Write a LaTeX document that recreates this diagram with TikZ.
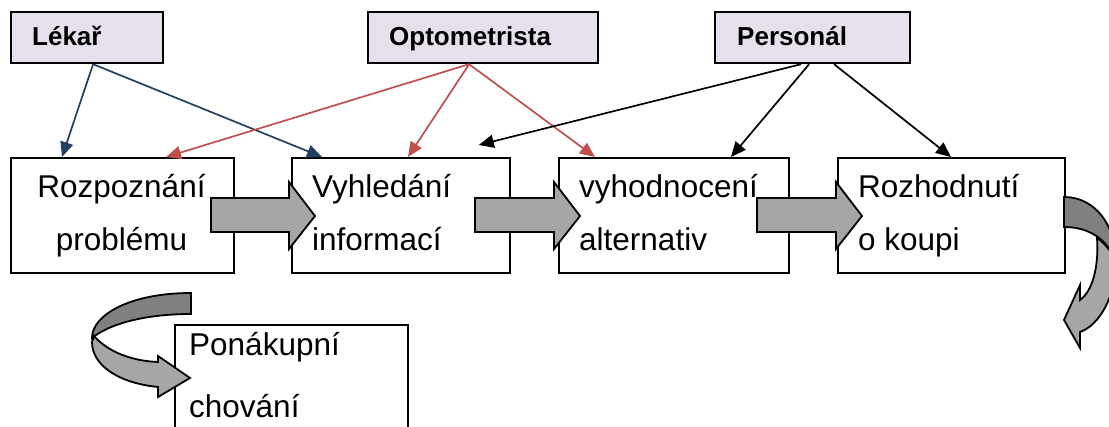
\documentclass[tikz,border=0pt]{standalone}
\usepackage{fontspec}
\setmainfont{Liberation Sans}
\usetikzlibrary{arrows.meta}
\definecolor{navy}{HTML}{243F60}
\definecolor{redc}{HTML}{C0504D}
\definecolor{lav}{HTML}{E5E0EC}
\definecolor{gdark}{HTML}{808080}
\definecolor{glight}{HTML}{A6A6A6}
\begin{document}
\begin{tikzpicture}[x=1pt,y=-1pt,
  topbox/.style={draw=black, line width=2.2pt, fill=lav, inner sep=0pt, anchor=north west},
  mainbox/.style={draw=black, line width=1.8pt, fill=white, inner sep=0pt, anchor=north west},
  toptext/.style={font=\fontsize{26}{30}\selectfont\bfseries, anchor=base west, inner sep=0pt},
  maintext/.style={font=\fontsize{31.5}{36}\selectfont, anchor=base west, inner sep=0pt},
  conn/.style={line width=1.7pt, -{Triangle[length=15pt,width=13pt]}},
  blockarrow/.style={draw=black, line width=1.8pt, fill=glight, line join=miter},
  backarrow/.style={draw=black, line width=1.8pt, fill=gdark},
]
\useasboundingbox (0,0) rectangle (1109,427);
\clip (0,0) rectangle (1109,427);
\fill[white] (0,0) rectangle (1109,427);

% top boxes
\node[topbox, minimum width=152pt, minimum height=51pt] (lek) at (10,11) {};
\node[toptext] (lekt) at (32,46) {Lékař};
\node[topbox, minimum width=230pt, minimum height=51pt] (opt) at (367,11) {};
\node[toptext] (optt) at (389,46) {Optometrista};
\node[topbox, minimum width=195pt, minimum height=51pt] (per) at (714,11) {};
\node[toptext] (pert) at (737,46) {Personál};

% main boxes
\node[mainbox, minimum width=223pt, minimum height=115pt] (b1) at (10,157) {};
\node[mainbox, minimum width=218pt, minimum height=115pt] (b2) at (291,157) {};
\node[mainbox, minimum width=230pt, minimum height=115pt] (b3) at (558,157) {};
\node[mainbox, minimum width=227pt, minimum height=115pt] (b4) at (837,157) {};
\node[mainbox, minimum width=233pt, minimum height=140pt] (b5) at (174,324) {};

\node[maintext, anchor=base] (t1a) at (121.5,198) {Rozpoznání};
\node[maintext, anchor=base] (t1b) at (121.5,251) {problému};
\node[maintext] (t2a) at (312,198) {Vyhledání};
\node[maintext] (t2b) at (312,251) {informací};
\node[maintext] (t3a) at (579,198) {vyhodnocení};
\node[maintext] (t3b) at (579,251) {alternativ};
\node[maintext] (t4a) at (858,198) {Rozhodnutí};
\node[maintext] (t4b) at (858,251) {o koupi};
\node[maintext] (t5a) at (189,356) {Ponákupní};
\node[maintext] (t5b) at (189,418) {chování};

% connector start / end points
\coordinate (lekS) at ([xshift=6pt]lek.south);
\coordinate (optS) at ([xshift=-14pt]opt.south);
\coordinate (perS1) at ([xshift=-11.5pt]per.south);
\coordinate (perS2) at ([xshift=-3.5pt]per.south);
\coordinate (perS3) at ([xshift=21.5pt]per.south);
\coordinate (free) at ([xshift=-32pt,yshift=12pt]b2.north east);

\draw[conn, navy] (lekS) -- ([xshift=52pt]b1.north west);
\draw[conn, navy] (lekS) -- ([xshift=31pt]b2.north west);
\draw[conn, redc] (optS) -- ([xshift=156pt]b1.north west);
\draw[conn, redc] (optS) -- ([xshift=117pt]b2.north west);
\draw[conn, redc] (optS) -- ([xshift=37pt]b3.north west);
\draw[conn, black] (perS1) -- (free);
\draw[conn, black] (perS2) -- ([xshift=173pt]b3.north west);
\draw[conn, black] (perS3) -- ([xshift=114pt]b4.north west);

% block arrows
\draw[blockarrow] (211,198) -- (289,198) -- (289,182) -- (315,216) -- (289,249) -- (289,232) -- (211,232) -- cycle;
\draw[blockarrow] (475,198) -- (554,198) -- (554,182) -- (580,216) -- (554,249) -- (554,232) -- (475,232) -- cycle;
\draw[blockarrow] (757,198) -- (836,198) -- (836,182) -- (862,216) -- (836,249) -- (836,232) -- (757,232) -- cycle;

% curved arrow right
\draw[backarrow] (1064,197) .. controls (1095,197) and (1116,225) .. (1116,262)
  .. controls (1108,240) and (1090,227) .. (1064,227) -- cycle;
\draw[blockarrow] (1097,238) .. controls (1099,265) and (1093,291) .. (1080,300)
  -- (1080,285) -- (1064,320) -- (1080,348) -- (1080,332)
  .. controls (1100,325) and (1116,295) .. (1116,262)
  .. controls (1111,250) and (1104,243) .. (1097,238) -- cycle;

% curved arrow bottom left
\draw[backarrow] (191,293) .. controls (130,293) and (92,315) .. (92,338)
  .. controls (112,322) and (150,314) .. (191,314) -- cycle;
\draw[blockarrow] (94,336) .. controls (108,352) and (132,361) .. (158,362)
  -- (158,356) -- (190,378) -- (158,397) -- (158,387)
  .. controls (118,383) and (92,365) .. (92,342) -- cycle;
\end{tikzpicture}
\end{document}
